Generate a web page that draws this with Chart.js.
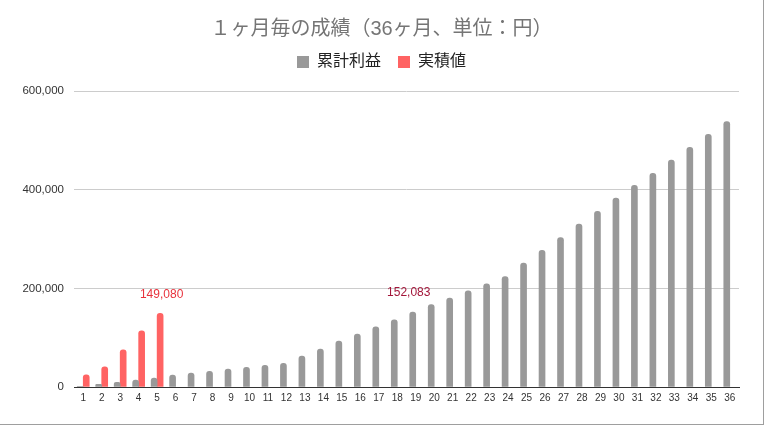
<!DOCTYPE html>
<html>
<head>
<meta charset="utf-8">
<script src="https://cdn.jsdelivr.net/npm/chart.js@4"></script>
<style>
  body { margin: 0; background: #fff; }
  #wrap { width: 763px; height: 424px; border-right: 1px solid #9e9e9e; border-bottom: 1px solid #9e9e9e; position: relative; }
</style>
</head>
<body>
<div id="wrap"><canvas id="chart"></canvas></div>
<script>
const months = Array.from({length: 36}, (_, i) => String(i + 1));
const cumulativeProfit = [
  1500, 5500, 9500, 14000, 18000, 24000, 28000, 32000, 36500, 40000,
  44000, 48000, 62500, 77000, 93000, 107500, 122000, 136000, 152083, 167000,
  180000, 195000, 209000, 224000, 251000, 277000, 303000, 330000, 356000, 383000,
  409000, 433000, 460000, 486000, 512000, 538000
];
const actualValues = [24500, 41000, 75500, 114000, 149080];
const seriesNames = ['累計利益', '実積値'];
const yTicks = [0, 200000, 400000, 600000];

// labels shown above single bars: [dataset, index]
const callouts = [[1, 4], [0, 18]];
const calloutStyle = [{ color: '#e8323c', dx: 1.5 }, { color: '#a3163a', dx: -4 }];

const FONT = "'Liberation Sans', 'Noto Sans CJK JP', sans-serif";

const legendGap = {
  id: 'legendGap',
  beforeLayout(chart) {
    const lg = chart.legend;
    if (!lg || lg._gapPatched) return;
    const fit = lg.fit;
    lg.fit = function () { fit.call(this); this.height += 11; };
    lg._gapPatched = true;
  }
};

const valueLabels = {
  id: 'valueLabels',
  afterDatasetsDraw(chart) {
    const ctx = chart.ctx;
    ctx.save();
    ctx.font = '12px ' + FONT;
    ctx.textAlign = 'center';
    ctx.textBaseline = 'middle';
    callouts.forEach(([ds, idx], i) => {
      const bar = chart.getDatasetMeta(ds).data[idx];
      const v = chart.data.datasets[ds].data[idx];
      ctx.fillStyle = calloutStyle[i].color;
      ctx.fillText(v.toLocaleString('en-US'), bar.x + calloutStyle[i].dx, bar.y - 19);
    });
    ctx.restore();
  }
};

new Chart(document.getElementById('chart'), {
  type: 'bar',
  data: {
    labels: months,
    datasets: [
      { label: seriesNames[0], data: cumulativeProfit, backgroundColor: '#999999', borderRadius: 3, barThickness: 6 },
      { label: seriesNames[1], data: actualValues.concat(Array(36 - actualValues.length).fill(null)),
        backgroundColor: '#ff6363', borderRadius: 3, barThickness: 6 }
    ]
  },
  options: {
    responsive: true,
    maintainAspectRatio: false,
    animation: false,
    layout: { padding: 0 },
    plugins: {
      title: {
        display: true,
        text: '１ヶ月毎の成績（36ヶ月、単位：円）',
        color: '#757575',
        font: { family: FONT, size: 20, weight: 'normal' },
        padding: { top: 17.5, bottom: -4.5 }
      },
      legend: {
        display: true,
        labels: {
          color: '#222',
          font: { family: FONT, size: 16 },
          boxWidth: 12,
          boxHeight: 12,
          padding: 17
        }
      },
      tooltip: { enabled: false }
    },
    scales: {
      x: {
        grid: { display: false, drawTicks: false },
        border: { display: true, color: '#333', width: 1 },
        ticks: { color: '#333', font: { family: FONT, size: 10 }, maxRotation: 0, autoSkip: false, padding: 5 },
        afterFit: s => { s.height = 37; }
      },
      y: {
        min: 0,
        max: yTicks[yTicks.length - 1],
        afterBuildTicks: s => { s.ticks = yTicks.map(v => ({ value: v })); },
        grid: { color: '#cccccc', drawTicks: false },
        border: { display: false },
        ticks: {
          color: '#333',
          font: { family: FONT, size: 11.5 },
          padding: 10,
          callback: v => v.toLocaleString('en-US')
        },
        afterFit: s => { s.width = 74; }
      },
      // empty right-hand spacer so the plot ends where the reference does
      spacer: {
        type: 'linear',
        position: 'right',
        grid: { display: false, drawTicks: false },
        border: { display: false },
        ticks: { display: false },
        afterFit: s => { s.width = 24; }
      }
    }
  },
  plugins: [legendGap, valueLabels]
});
</script>
</body>
</html>
